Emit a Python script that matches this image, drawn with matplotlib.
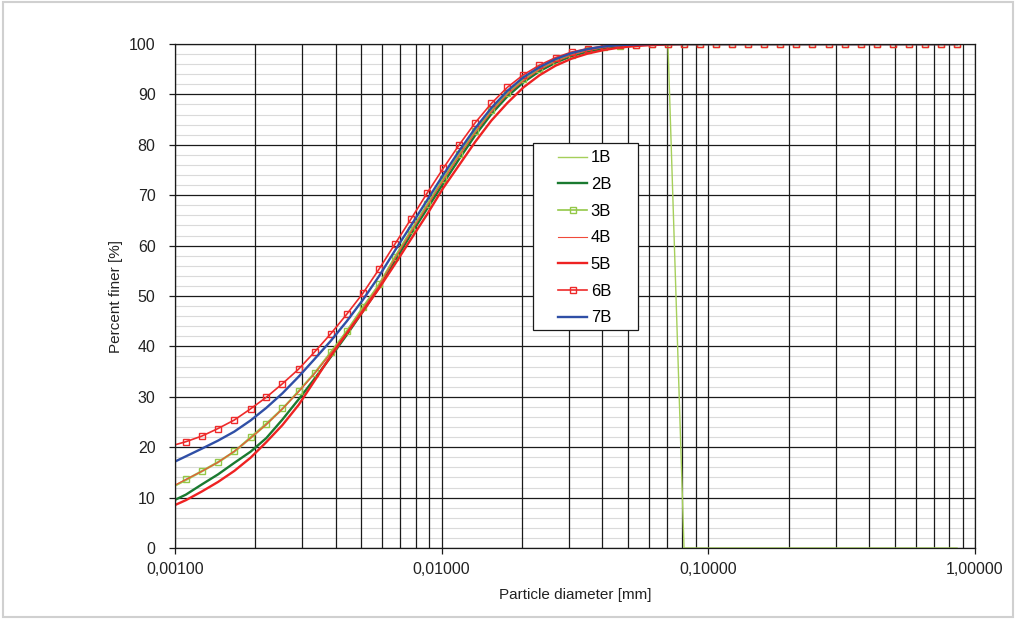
import numpy as np
import matplotlib
matplotlib.use("Agg")
import matplotlib.pyplot as plt
from matplotlib.ticker import FixedLocator, MultipleLocator, FuncFormatter
from matplotlib.patches import Rectangle

plt.rcParams['font.family'] = ['Liberation Sans', 'DejaVu Sans']

# particle diameters [mm]
diam = [0.00096, 0.00110, 0.00126, 0.00145, 0.00167, 0.00192, 0.00220, 0.00253, 0.00291, 0.00334,
        0.00384, 0.00441, 0.00506, 0.00582, 0.00668, 0.00768, 0.00882, 0.01013, 0.01164, 0.01337,
        0.01536, 0.01764, 0.02027, 0.02328, 0.02674, 0.03072, 0.03529, 0.04054, 0.04657, 0.05350,
        0.06145, 0.07060, 0.08110, 0.09315, 0.1070, 0.1229, 0.1412, 0.1622, 0.1863, 0.2141,
        0.2459, 0.2825, 0.3245, 0.3727, 0.4282, 0.4918, 0.5650, 0.6490, 0.7455, 0.8564]

# percent finer per sample
p1b = [11.8, 13.4, 15.1, 16.9, 19.0, 21.7, 24.4, 27.5, 31.0, 34.6, 38.7, 43.0, 47.6, 52.3, 57.6,
       62.9, 68.0, 73.1, 78.0, 82.6, 86.7, 90.2, 92.9, 95.0, 96.7, 97.9, 98.8, 99.4, 99.7, 99.9,
       100, 100] + [0] * 18
p2b = [9.1, 10.6, 12.6, 14.6, 16.9, 19.1, 21.8, 25.5, 29.5, 33.6, 37.9, 42.3, 46.9, 51.6, 56.9,
       62.3, 67.3, 72.3, 77.2, 81.9, 86.1, 89.6, 92.4, 94.6, 96.3, 97.6, 98.5, 99.1, 99.5, 99.8,
       99.9] + [100] * 19
p3b = [11.9, 13.6, 15.3, 17.1, 19.2, 22.0, 24.7, 27.7, 31.2, 34.8, 38.9, 43.1, 47.8, 52.3, 57.8,
       63.1, 68.2, 73.3, 78.2, 82.8, 86.9, 90.3, 93.0, 95.1, 96.7, 97.9, 98.8, 99.4, 99.7, 99.9] + [100] * 20
p4b = [12.0, 13.6, 15.2, 17.0, 19.2, 21.8, 24.5, 27.6, 31.0, 34.6, 38.6, 42.8, 47.4, 52.0, 57.4,
       62.7, 67.8, 72.9, 77.8, 82.4, 86.5, 90.0, 92.7, 94.9, 96.5, 97.8, 98.7, 99.3, 99.7, 99.9] + [100] * 20
p5b = [8.1, 9.5, 11.2, 13.1, 15.3, 17.9, 21.0, 24.4, 28.4, 33.2, 38.1, 42.6, 46.9, 51.5, 56.3,
       61.3, 66.2, 71.4, 76.0, 80.6, 84.8, 88.3, 91.4, 93.8, 95.7, 97.1, 98.1, 98.8, 99.3, 99.6,
       99.8, 99.9] + [100] * 18
p6b = [20.2, 21.1, 22.2, 23.7, 25.4, 27.6, 29.9, 32.6, 35.5, 38.9, 42.5, 46.4, 50.5, 55.3, 60.3,
       65.3, 70.4, 75.3, 80.0, 84.4, 88.2, 91.4, 93.9, 95.8, 97.3, 98.4, 99.1, 99.6, 99.8, 99.9] + [100] * 20
p7b = [16.7, 18.2, 19.7, 21.3, 23.1, 25.3, 27.8, 30.7, 34.0, 37.5, 41.1, 45.0, 49.2, 53.9, 59.0,
       64.0, 69.0, 74.0, 78.8, 83.3, 87.3, 90.7, 93.4, 95.4, 97.0, 98.2, 99.0, 99.5, 99.8, 99.9] + [100] * 20

fig = plt.figure(figsize=(10.16, 6.19), dpi=100)
fig.patches.append(Rectangle((0.003, 0.004), 0.994, 0.992, transform=fig.transFigure,
                             fill=False, edgecolor="#d0d0d0", linewidth=1.5))
ax = fig.add_axes([0.1722, 0.1147, 0.7874, 0.8142])

ax.plot(diam, p1b, color="#a5cf5a", lw=1.0, label="1B")
ax.plot(diam, p2b, color="#1a7a30", lw=1.7, label="2B")
ax.plot(diam, p3b, color="#94c848", lw=1.2, marker="s", ms=5, mfc="none", mew=1.0, label="3B")
ax.plot(diam, p4b, color="#f04a3a", lw=0.8, label="4B")
ax.plot(diam, p5b, color="#ee2222", lw=1.7, label="5B")
ax.plot(diam, p6b, color="#ee2a2a", lw=1.2, marker="s", ms=5, mfc="none", mew=1.0, label="6B")
ax.plot(diam, p7b, color="#2f4fa6", lw=1.7, label="7B")

ax.set_xscale("log")
ax.set_xlim(0.001, 1.0)
ax.set_ylim(0, 100)

ax.xaxis.set_major_locator(FixedLocator([0.001, 0.01, 0.1, 1.0]))
ax.xaxis.set_minor_locator(FixedLocator([m * 10.0 ** e for e in (-3, -2, -1) for m in range(2, 10)]))
ax.xaxis.set_major_formatter(FuncFormatter(lambda v, p: f"{v:.5f}".replace(".", ",")))
ax.xaxis.set_minor_formatter(FuncFormatter(lambda v, p: ""))
ax.yaxis.set_major_locator(MultipleLocator(10))
ax.yaxis.set_minor_locator(MultipleLocator(2))

ax.set_axisbelow(True)
# light horizontal lines under the black vertical ones
ax.yaxis.set_zorder(0.3)
ax.xaxis.set_zorder(0.5)
ax.grid(which="major", axis="both", color="#1a1a1a", lw=0.9)
ax.grid(which="minor", axis="x", color="#1a1a1a", lw=0.9)
ax.grid(which="minor", axis="y", color="#dadada", lw=0.8)

for s in ax.spines.values():
    s.set_color("#1a1a1a")
    s.set_linewidth(0.9)

ax.tick_params(which="major", length=4, width=0.9, colors="#1a1a1a", labelsize=11.5, labelcolor="#222222")
ax.tick_params(axis="x", which="major", pad=6)
ax.tick_params(axis="y", which="major", pad=10)
ax.tick_params(which="minor", length=0)

ax.set_xlabel("Particle diameter [mm]", fontsize=11, color="#222222", labelpad=8)
ax.set_ylabel("Percent finer [%]", fontsize=11, color="#222222", labelpad=4)

# legend box drawn separately so the entries can sit right of centre like the original
ax.add_patch(Rectangle((0.447, 0.4325), 0.132, 0.3705, transform=ax.transAxes,
                       facecolor="white", edgecolor="#1a1a1a", lw=0.9, zorder=4))
leg = ax.legend(loc="upper left", bbox_to_anchor=(0.479, 0.789), borderaxespad=0,
                fontsize=12, frameon=False, labelspacing=0.70, handlelength=1.75,
                handletextpad=0.2, borderpad=0)
leg.set_zorder(5)

fig.savefig("out.png", dpi=100)
